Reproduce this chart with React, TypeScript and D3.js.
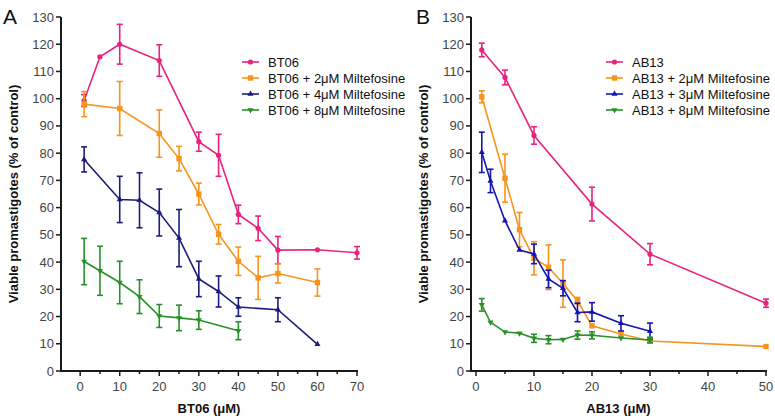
import React from "react";
import * as d3 from "d3";

// ---------- Panel A data ----------
const aX_BT06 = [1, 5, 10, 20, 30, 35, 40, 45, 50, 60, 70];
const aY_BT06 = [99.3, 115.4, 120, 114, 84.2, 79.2, 57.5, 52.4, 44.4, 44.5, 43.4];
const aE_BT06 = [2.2, 0, 7.3, 5.8, 3.5, 7.7, 3.4, 4.5, 5.0, 0, 2.3];

const aX_2 = [1, 10, 20, 25, 30, 35, 40, 45, 50, 60];
const aY_2 = [98, 96.4, 87.2, 78, 65, 50.2, 40.3, 34.2, 35.8, 32.5];
const aE_2 = [4.6, 9.9, 8.7, 4.5, 4.0, 3.6, 5.2, 7.9, 3.5, 5.0];

const aX_4 = [1, 10, 15, 20, 25, 30, 35, 40, 50, 60];
const aY_4 = [77.7, 63, 62.7, 58.2, 48.8, 33.8, 29.2, 23.5, 22.5, 9.8];
const aE_4 = [4.6, 8.5, 10.1, 8.6, 10.5, 6.5, 5.7, 3.4, 4.4, 0];

const aX_8 = [1, 5, 10, 15, 20, 25, 30, 40];
const aY_8 = [40.2, 36.8, 32.5, 27.3, 20.2, 19.5, 18.7, 14.8];
const aE_8 = [8.5, 9.0, 7.8, 6.2, 4.2, 4.7, 3.4, 3.3];

// ---------- Panel B data ----------
const bX_AB13 = [1, 5, 10, 20, 30, 50];
const bY_AB13 = [117.9, 107.8, 86.5, 61.3, 42.9, 24.9];
const bE_AB13 = [2.5, 2.7, 3.2, 6.2, 3.9, 1.5];

const bX_2 = [1, 5, 7.5, 10, 12.5, 15, 17.5, 20, 25, 30, 50];
const bY_2 = [100.7, 70.8, 51.9, 41.4, 38.1, 32.1, 25.8, 16.6, 13.6, 11, 9];
const bE_2 = [2.2, 8.8, 6.3, 6.1, 8.2, 8.7, 1.2, 0, 0, 0.8, 0];

const bX_3 = [1, 2.5, 5, 7.5, 10, 12.5, 15, 17.5, 20, 25, 30];
const bY_3 = [80.3, 69.8, 55.2, 44.4, 43.0, 33.8, 30.4, 21.5, 21.7, 17.5, 14.6];
const bE_3 = [7.4, 4.3, 0, 0, 3.6, 3.2, 2.8, 3.4, 3.4, 2.8, 3.0];

const bX_8 = [1, 2.5, 5, 7.5, 10, 12.5, 15, 17.5, 20, 25, 30];
const bY_8 = [24.3, 17.9, 14.3, 13.9, 12.0, 11.5, 11.6, 13.2, 13.1, 12.1, 11.4];
const bE_8 = [2.3, 0, 0, 0, 1.5, 1.5, 0, 1.5, 1.3, 0, 1.0];

const yTicks = [0, 10, 20, 30, 40, 50, 60, 70, 80, 90, 100, 110, 120, 130];
const aXTicks = [0, 10, 20, 30, 40, 50, 60, 70];
const aXMinor = [5, 15, 25, 35, 45, 55, 65];
const bXTicks = [0, 10, 20, 30, 40, 50];
const bXMinor = [5, 15, 25, 35, 45];

const aLabels = ["BT06", "BT06 + 2\u03bcM Miltefosine", "BT06 + 4\u03bcM Miltefosine", "BT06 + 8\u03bcM Miltefosine"];
const bLabels = ["AB13", "AB13 + 2\u03bcM Miltefosine", "AB13 + 3\u03bcM Miltefosine", "AB13 + 8\u03bcM Miltefosine"];

const PINK = "#e8237f";
const ORANGE = "#f7941d";
const NAVY_A = "#1c1c7c";
const NAVY_B = "#1515b0";
const GREEN = "#279127";

type Series = { x: number[]; y: number[]; e: number[]; color: string; marker: string };

const FONT = "'Liberation Sans', Arial, Helvetica, sans-serif";

function Marker({ kind, cx, cy, color }: { kind: string; cx: number; cy: number; color: string }) {
  if (kind === "circle") return <circle cx={cx} cy={cy} r={2.6} fill={color} />;
  if (kind === "square") return <rect x={cx - 2.7} y={cy - 2.7} width={5.4} height={5.4} fill={color} />;
  const sym = d3.symbol().type(d3.symbolTriangle).size(16)();
  const rot = kind === "tdown" ? 180 : 0;
  return <path d={sym || ""} transform={`translate(${cx},${cy}) rotate(${rot})`} fill={color} />;
}

function Panel({
  letter, letterX, x0, x1, domain, xTicks, xMinor, series, labels, legendX, xLabel, yLabelX,
}: {
  letter: string; letterX: number; x0: number; x1: number; domain: [number, number];
  xTicks: number[]; xMinor: number[]; series: Series[]; labels: string[]; legendX: number; xLabel: string; yLabelX: number;
}) {
  const yTop = 17, yBot = 371;
  const xs = d3.scaleLinear().domain(domain).range([x0, x1]);
  const ys = d3.scaleLinear().domain([0, 130]).range([yBot, yTop]);
  const line = d3.line<[number, number]>().x((d) => xs(d[0])).y((d) => ys(d[1]));
  const axisColor = "#1a1a1a";
  const tickColor = "#444";
  return (
    <g>
      <text x={letterX} y={24} fontSize={21} fontFamily={FONT} fill="#111">{letter}</text>
      {/* y axis */}
      <line x1={x0} x2={x0} y1={ys(130)} y2={yBot + 1} stroke={axisColor} strokeWidth={2} />
      {yTicks.map((t) => (
        <g key={"y" + t}>
          <line x1={x0 - 5} x2={x0} y1={ys(t)} y2={ys(t)} stroke={axisColor} strokeWidth={1.5} />
          <text x={x0 - 7} y={ys(t) + 4.5} fontSize={13} textAnchor="end" fontFamily={FONT} fill={tickColor}>{t}</text>
        </g>
      ))}
      {/* x axis */}
      <line x1={x0 - 1} x2={x1 + 1} y1={yBot} y2={yBot} stroke={axisColor} strokeWidth={2} />
      {xTicks.map((t) => (
        <g key={"x" + t}>
          <line x1={xs(t)} x2={xs(t)} y1={yBot} y2={yBot + 5} stroke={axisColor} strokeWidth={1.5} />
          <text x={xs(t)} y={yBot + 20} fontSize={13} textAnchor="middle" fontFamily={FONT} fill={tickColor}>{t}</text>
        </g>
      ))}
      {xMinor.map((t) => (
        <line key={"m" + t} x1={xs(t)} x2={xs(t)} y1={yBot} y2={yBot + 3} stroke={axisColor} strokeWidth={1.5} />
      ))}
      <text x={(x0 + x1) / 2} y={413} fontSize={13} fontWeight="bold" textAnchor="middle" fontFamily={FONT} fill="#111">{xLabel}</text>
      <text transform={`translate(${yLabelX},${(yTop + yBot) / 2}) rotate(-90)`} fontSize={13} fontWeight="bold" textAnchor="middle" fontFamily={FONT} fill="#111">
        Viable promastigotes (% of control)
      </text>
      {/* series */}
      {series.map((s, si) => {
        const pts = s.x.map((xv, i) => [xv, s.y[i]] as [number, number]);
        return (
          <g key={"s" + si}>
            <path d={line(pts) || ""} fill="none" stroke={s.color} strokeWidth={1.6} />
            {s.x.map((xv, i) =>
              s.e[i] > 0 ? (
                <g key={"e" + i} stroke={s.color} strokeWidth={1.6}>
                  <line x1={xs(xv)} x2={xs(xv)} y1={ys(s.y[i] + s.e[i])} y2={ys(s.y[i] - s.e[i])} />
                  <line x1={xs(xv) - 3} x2={xs(xv) + 3} y1={ys(s.y[i] + s.e[i])} y2={ys(s.y[i] + s.e[i])} />
                  <line x1={xs(xv) - 3} x2={xs(xv) + 3} y1={ys(s.y[i] - s.e[i])} y2={ys(s.y[i] - s.e[i])} />
                </g>
              ) : null
            )}
            {s.x.map((xv, i) => (
              <Marker key={"m" + i} kind={s.marker} cx={xs(xv)} cy={ys(s.y[i])} color={s.color} />
            ))}
          </g>
        );
      })}
      {/* legend */}
      {series.map((s, si) => {
        const ly = 62 + si * 16;
        return (
          <g key={"l" + si}>
            <line x1={legendX} x2={legendX + 17} y1={ly} y2={ly} stroke={s.color} strokeWidth={1.6} />
            <Marker kind={s.marker} cx={legendX + 8.5} cy={ly} color={s.color} />
            <text x={legendX + 26} y={ly + 4.5} fontSize={13} fontFamily={FONT} fill="#111">{labels[si]}</text>
          </g>
        );
      })}
    </g>
  );
}

export default function App() {
  const aSeries: Series[] = [
    { x: aX_BT06, y: aY_BT06, e: aE_BT06, color: PINK, marker: "circle" },
    { x: aX_2, y: aY_2, e: aE_2, color: ORANGE, marker: "square" },
    { x: aX_4, y: aY_4, e: aE_4, color: NAVY_A, marker: "tup" },
    { x: aX_8, y: aY_8, e: aE_8, color: GREEN, marker: "tdown" },
  ];
  const bSeries: Series[] = [
    { x: bX_AB13, y: bY_AB13, e: bE_AB13, color: PINK, marker: "circle" },
    { x: bX_2, y: bY_2, e: bE_2, color: ORANGE, marker: "square" },
    { x: bX_3, y: bY_3, e: bE_3, color: NAVY_B, marker: "tup" },
    { x: bX_8, y: bY_8, e: bE_8, color: GREEN, marker: "tdown" },
  ];
  return (
    <svg width={775} height={420} style={{ position: "absolute", left: 0, top: 0, background: "#fff" }}>
      <rect width={775} height={420} fill="#fff" />
      <Panel letter="A" letterX={3} x0={61} x1={357} domain={[-4.85, 70]} xTicks={aXTicks} xMinor={aXMinor}
        series={aSeries} labels={aLabels} legendX={242} xLabel={"BT06 (\u03bcM)"} yLabelX={18} />
      <Panel letter="B" letterX={416} x0={471} x1={766} domain={[-0.86, 50]} xTicks={bXTicks} xMinor={bXMinor}
        series={bSeries} labels={bLabels} legendX={606} xLabel={"AB13 (\u03bcM)"} yLabelX={428} />
    </svg>
  );
}
